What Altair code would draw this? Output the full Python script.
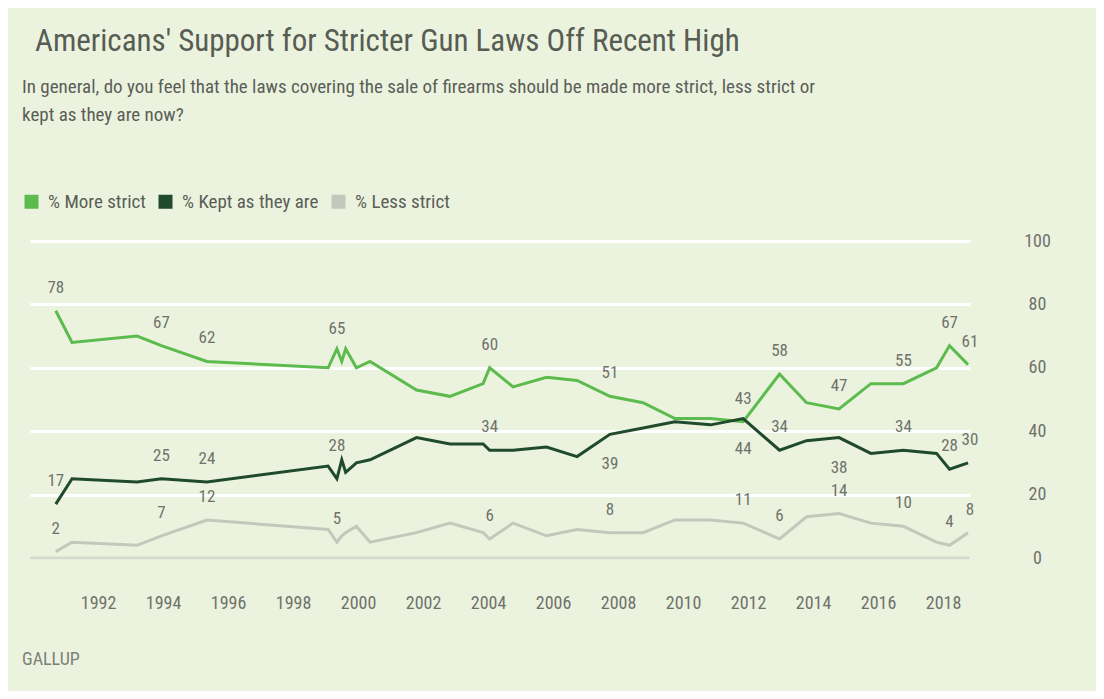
import altair as alt
import pandas as pd

# ---- data ----
years = [1990.7, 1991.2, 1993.2, 1993.95, 1995.35, 1999.08, 1999.35, 1999.5, 1999.62,
         1999.95, 2000.37, 2001.8, 2002.83, 2003.85, 2004.05, 2004.77, 2005.8, 2006.74,
         2007.75, 2008.77, 2009.75, 2010.85, 2011.85, 2012.97, 2013.8, 2014.8, 2015.78,
         2016.78, 2017.8, 2018.2, 2018.77]
more_strict = [78, 68, 70, 67, 62, 60, 66, 62, 66, 60, 62, 53, 51, 55, 60, 54, 57, 56, 51,
               49, 44, 44, 43, 58, 49, 47, 55, 55, 60, 67, 61]
kept_same = [17, 25, 24, 25, 24, 29, 25, 31, 27, 30, 31, 38, 36, 36, 34, 34, 35, 32, 39,
             41, 43, 42, 44, 34, 37, 38, 33, 34, 33, 28, 30]
less_strict = [2, 5, 4, 7, 12, 9, 5, 7, 8, 10, 5, 8, 11, 8, 6, 11, 7, 9, 8, 8, 12, 12, 11,
               6, 13, 14, 11, 10, 5, 4, 8]

series_names = ["% More strict", "% Kept as they are", "% Less strict"]
series_colors = ["#5cbb4d", "#1f4a2b", "#c4c8bc"]

label_years = [1990.7, 1993.95, 1995.35, 1999.35, 2004.05, 2007.75, 2011.85, 2012.97,
               2014.8, 2016.78, 2018.2, 2018.83]
more_labels = [78, 67, 62, 65, 60, 51, 43, 58, 47, 55, 67, 61]
kept_labels = [17, 25, 24, 28, 34, 39, 44, 34, 38, 34, 28, 30]
less_labels = [2, 7, 12, 5, 6, 8, 11, 6, 14, 10, 4, 8]
kept_below = [False, False, False, False, False, True, True, False, True, False, False, False]

x_ticks = list(range(1992, 2019, 2))
y_ticks = [0, 20, 40, 60, 80, 100]

title_text = "Americans' Support for Stricter Gun Laws Off Recent High"
subtitle_lines = [
    "In general, do you feel that the laws covering the sale of firearms should be made more strict, less strict or",
    "kept as they are now?",
]
source_text = "GALLUP"

# ---- tables ----
rows = []
for name, vals in zip(series_names, [more_strict, kept_same, less_strict]):
    for yr, v in zip(years, vals):
        rows.append({"year": yr, "value": v, "series": name})
line_df = pd.DataFrame(rows)

lrows = []
for name, vals in zip(series_names, [more_labels, kept_labels, less_labels]):
    for i, (yr, v) in enumerate(zip(label_years, vals)):
        below = kept_below[i] if name == series_names[1] else False
        lrows.append({"year": yr, "value": v, "series": name,
                      "pos": "below" if below else "above"})
label_df = pd.DataFrame(lrows)

key_df = pd.DataFrame({"series": series_names})

FONT = "'Liberation Sans Narrow', 'Roboto Condensed', 'DejaVu Sans Condensed', sans-serif"
GRAY = "#6f726a"
DARK = "#5b5e57"

x_scale = alt.Scale(domain=[1989.907, 2018.83], nice=False, zero=False)
y_scale = alt.Scale(domain=[0, 100], nice=False)

x_enc = alt.X("year:Q", scale=x_scale,
              axis=alt.Axis(values=x_ticks, format="d", title=None, grid=False, domain=False,
                            ticks=False, tickSize=0, labelPadding=36, labelFontSize=18,
                            labelColor=GRAY, labelFont=FONT))
y_enc = alt.Y("value:Q", scale=y_scale,
              axis=alt.Axis(values=y_ticks, orient="right", title=None, grid=True,
                            gridColor="white", gridWidth=3, domain=False, ticks=False,
                            tickSize=0, labelPadding=67, labelAlign="center",
                            labelBaseline="middle", labelFontSize=18, labelColor=GRAY,
                            labelFont=FONT))

color_scale = alt.Scale(domain=series_names, range=series_colors)

zero_rule = alt.Chart(pd.DataFrame({"value": [0]})).mark_rule(
    color="#d6dbcc", strokeWidth=3).encode(y=alt.Y("value:Q", scale=y_scale))

lines = alt.Chart(line_df).mark_line(strokeWidth=3).encode(
    x=x_enc, y=y_enc,
    stroke=alt.Stroke("series:N", scale=color_scale, legend=None),
    order=alt.Order("year:Q"),
)

legend_layer = alt.Chart(key_df).mark_square(size=0, filled=True).encode(
    x=alt.value(0), y=alt.value(0),
    fill=alt.Fill("series:N", scale=color_scale,
                  legend=alt.Legend(title=None, orient="none", legendX=-8, legendY=-49,
                                    direction="horizontal", symbolType="square",
                                    symbolSize=196, symbolStrokeWidth=0, symbolOpacity=1,
                                    labelFontSize=19, labelColor=DARK, labelFont=FONT,
                                    columnPadding=10, labelOffset=7, labelLimit=0)),
)

labels_above = alt.Chart(label_df).transform_filter("datum.pos == 'above'").mark_text(
    dy=-23, fontSize=17, color=GRAY, font=FONT, baseline="middle").encode(
    x=alt.X("year:Q", scale=x_scale), y=alt.Y("value:Q", scale=y_scale), text="value:Q")
labels_below = alt.Chart(label_df).transform_filter("datum.pos == 'below'").mark_text(
    dy=30, fontSize=17, color=GRAY, font=FONT, baseline="middle").encode(
    x=alt.X("year:Q", scale=x_scale), y=alt.Y("value:Q", scale=y_scale), text="value:Q")


def text_line(txt, x, y, size, color):
    return alt.Chart(pd.DataFrame({"t": [txt]})).mark_text(
        align="left", baseline="middle", fontSize=size, color=color, font=FONT,
        limit=0).encode(text="t:N", x=alt.value(x), y=alt.value(y))


title = text_line(title_text, 5, -199, 31, "#585d54")
sub1 = text_line(subtitle_lines[0], -8, -154, 19, DARK)
sub2 = text_line(subtitle_lines[1], -8, -126, 19, DARK)
gallup = text_line(source_text, -8, 419, 18, "#7d8078")

chart = alt.layer(zero_rule, lines, legend_layer, labels_above, labels_below,
                  title, sub1, sub2, gallup).resolve_legend(
    fill="independent", stroke="independent").properties(
    width=940, height=317,
    autosize=alt.AutoSizeParams(type="none"),
    padding={"left": 22, "top": 233, "right": 126, "bottom": 133},
).configure(background="#ebf3df", font=FONT).configure_view(stroke=None)

chart.save("out.html", embed_options={"renderer": "svg", "actions": False})
